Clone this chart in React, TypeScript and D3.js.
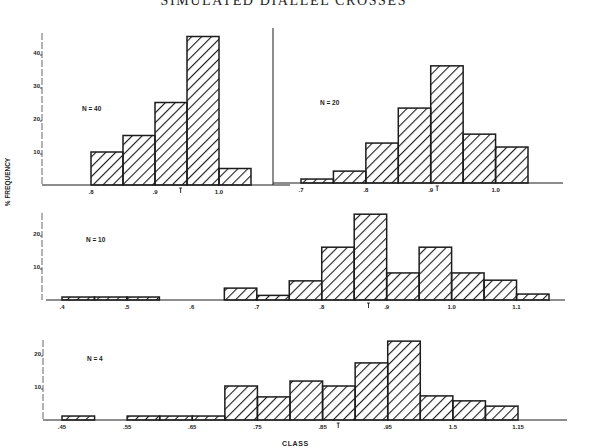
import React from "react";
import * as d3 from "d3";

const TITLE = "SIMULATED DIALLEL CROSSES";
const BIN = 0.05;

// Panel data (% frequency per class bin of width 0.05)
const p1Start = 0.8;
const p1Values = [10, 15, 25, 45, 5];
const p1Ticks = [0.8, 0.9, 1.0];
const p1TickLabels = [".8", ".9", "1.0"];
const p1Mean = 0.94;

const p2Start = 0.7;
const p2Values = [1.2, 3.6, 12.1, 22.7, 35.5, 14.8, 10.9];
const p2Ticks = [0.7, 0.8, 0.9, 1.0];
const p2TickLabels = [".7", ".8", ".9", "1.0"];
const p2Mean = 0.91;

const p3Start = 0.4;
const p3Values = [0.9, 0.9, 0.9, 0, 0, 3.6, 1.4, 5.8, 16, 26, 8.2, 16, 8.2, 6, 1.8];
const p3Ticks = [0.4, 0.5, 0.6, 0.7, 0.8, 0.9, 1.0, 1.1];
const p3TickLabels = [".4", ".5", ".6", ".7", ".8", ".9", "1.0", "1.1"];
const p3Mean = 0.872;

const p4Start = 0.45;
const p4Values = [1.2, 0, 1.2, 1.2, 1.2, 10.3, 7, 11.8, 10.3, 17.3, 23.9, 7.3, 5.8, 4.2];
const p4Ticks = [0.45, 0.55, 0.65, 0.75, 0.85, 0.95, 1.05, 1.15];
const p4TickLabels = [".45", ".55", ".65", ".75", ".85", ".95", "1.5", "1.15"];
const p4Mean = 0.874;

const yTicksTop = [10, 20, 30, 40];
const yTicksSmall = [10, 20];

const INK = "#1c1c1c";
const LABEL_FONT = "'Liberation Sans', Arial, sans-serif";

type PanelProps = {
  start: number;
  values: number[];
  ticks: number[];
  tickLabels: string[];
  mean: number;
  xDomainEnd: number;
  xRange: [number, number];
  base: number;
  baseLine: [number, number];
  yAxis?: { x: number; top: number; ticks: number[] };
  nLabel: string;
  nPos: [number, number];
};

function Panel(p: PanelProps) {
  const x = d3.scaleLinear().domain([p.start, p.xDomainEnd]).range(p.xRange);
  const y = d3.scaleLinear().domain([0, 10]).range([p.base, p.base - 33]);
  const bins = p.values.map((v, i) => ({ x0: p.start + i * BIN, x1: p.start + (i + 1) * BIN, v }));
  const mx = x(p.mean);
  return (
    <g>
      <line x1={p.baseLine[0]} x2={p.baseLine[1]} y1={p.base} y2={p.base} stroke={INK} strokeWidth={1} />
      {p.yAxis && (
        <g>
          <line x1={p.yAxis.x} x2={p.yAxis.x} y1={p.yAxis.top} y2={p.base} stroke="#555" strokeWidth={0.9} strokeDasharray="7 2" />
          {p.yAxis.ticks.map((t) => (
            <g key={t}>
              <line x1={p.yAxis!.x - 2} x2={p.yAxis!.x} y1={y(t) + 2} y2={y(t) + 2} stroke={INK} strokeWidth={0.8} />
              <text x={p.yAxis!.x - 2} y={y(t) + 2} fontSize={6} fontWeight="bold" textAnchor="end" fontFamily={LABEL_FONT} fill={INK}>
                {t}
              </text>
            </g>
          ))}
        </g>
      )}
      {bins.map((b, i) => (
        <rect
          key={i}
          x={x(b.x0)}
          y={y(b.v)}
          width={x(b.x1) - x(b.x0)}
          height={y(0) - y(b.v)}
          fill="url(#hatch)"
          stroke={INK}
          strokeWidth={1.5}
        />
      ))}
      {p.ticks.map((t, i) => (
        <text key={t} x={x(t)} y={p.base + 9} fontSize={6} fontWeight="bold" textAnchor="middle" fontFamily={LABEL_FONT} fill={INK}>
          {p.tickLabels[i]}
        </text>
      ))}
      <path d={`M${mx - 1.5},${p.base + 3}H${mx + 1.5}M${mx},${p.base + 3}V${p.base + 8}`} stroke={INK} strokeWidth={0.9} fill="none" />
      <text x={p.nPos[0]} y={p.nPos[1]} fontSize={6.5} fontWeight="bold" fontFamily={LABEL_FONT} fill={INK}>
        {p.nLabel}
      </text>
    </g>
  );
}

export default function App() {
  return (
    <svg width={592} height={448} style={{ position: "absolute", left: 0, top: 0, background: "#fff" }}>
      <defs>
        <pattern id="hatch" patternUnits="userSpaceOnUse" width={7} height={7} patternTransform="rotate(45)">
          <line x1={0} y1={0} x2={0} y2={7} stroke={INK} strokeWidth={2.2} />
        </pattern>
      </defs>
      <rect width={592} height={448} fill="#fff" />
      <text x={283} y={5} fontSize={14} fontFamily="'Liberation Serif', 'Times New Roman', serif" textAnchor="middle" textLength={245} fill="#222">
        {TITLE}
      </text>

      <Panel
        start={p1Start}
        values={p1Values}
        ticks={p1Ticks}
        tickLabels={p1TickLabels}
        mean={p1Mean}
        xDomainEnd={1.05}
        xRange={[91, 251]}
        base={185}
        baseLine={[42, 290]}
        yAxis={{ x: 42, top: 33, ticks: yTicksTop }}
        nLabel="N = 40"
        nPos={[82, 111]}
      />
      <line x1={273} x2={273} y1={28} y2={185} stroke={INK} strokeWidth={1} />
      <Panel
        start={p2Start}
        values={p2Values}
        ticks={p2Ticks}
        tickLabels={p2TickLabels}
        mean={p2Mean}
        xDomainEnd={1.05}
        xRange={[301, 528]}
        base={183}
        baseLine={[273, 563]}
        nLabel="N = 20"
        nPos={[320, 105]}
      />
      <Panel
        start={p3Start}
        values={p3Values}
        ticks={p3Ticks}
        tickLabels={p3TickLabels}
        mean={p3Mean}
        xDomainEnd={1.15}
        xRange={[62, 549]}
        base={300}
        baseLine={[46, 565]}
        yAxis={{ x: 42, top: 213, ticks: yTicksSmall }}
        nLabel="N = 10"
        nPos={[86, 242]}
      />
      <Panel
        start={p4Start}
        values={p4Values}
        ticks={p4Ticks}
        tickLabels={p4TickLabels}
        mean={p4Mean}
        xDomainEnd={1.15}
        xRange={[62, 518]}
        base={420}
        baseLine={[43, 567]}
        yAxis={{ x: 43, top: 340, ticks: yTicksSmall }}
        nLabel="N = 4"
        nPos={[87, 361]}
      />

      <text
        transform="translate(10,182) rotate(-90)"
        fontSize={6.5}
        fontWeight="bold"
        textAnchor="middle"
        fontFamily={LABEL_FONT}
        fill={INK}
      >
        % FREQUENCY
      </text>
      <text x={282} y={446} fontSize={7} fontWeight="bold" fontFamily={LABEL_FONT} fill={INK} letterSpacing={0.6}>
        CLASS
      </text>
    </svg>
  );
}
